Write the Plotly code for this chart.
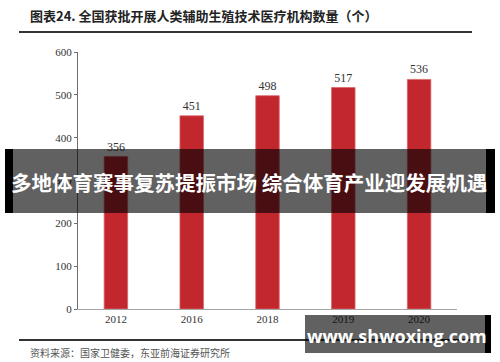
import plotly.graph_objects as go

years = ["2012", "2016", "2018", "2019", "2020"]
counts = [356, 451, 498, 517, 536]
y_ticks = [0, 100, 200, 300, 400, 500, 600]

title_text = "图表24. 全国获批开展人类辅助生殖技术医疗机构数量（个）"
source_text = "资料来源：国家卫健委，东亚前海证券研究所"
banner_text = "多地体育赛事复苏提振市场 综合体育产业迎发展机遇"
watermark_text = "www.shwoxing.com"

W, H = 500, 362
L, R, T, B = 78, 43, 52, 53
pw, ph = W - L - R, H - T - B


def px(x):
    return (x - L) / pw


def py(y):
    return (H - B - y) / ph


fig = go.Figure()
fig.add_trace(go.Bar(
    x=years, y=counts,
    marker=dict(color="#C1272D", line=dict(color="#D9676B", width=0.8)),
    width=0.31,
    text=[str(v) for v in counts],
    textposition="outside",
    textfont=dict(family="Liberation Serif", size=12, color="#333333"),
    cliponaxis=False,
))

serif = "Liberation Serif"
fig.update_layout(
    width=W, height=H,
    margin=dict(l=L, r=R, t=T, b=B),
    paper_bgcolor="white", plot_bgcolor="white",
    showlegend=False,
    bargap=0.69,
    xaxis=dict(
        showline=True, linecolor="#A6A6A6", linewidth=1.2,
        ticks="", showgrid=False,
        tickfont=dict(family=serif, size=11, color="#333333"),
    ),
    yaxis=dict(
        range=[0, 600], tickvals=y_ticks,
        showline=True, linecolor="#6F6F6F", linewidth=1,
        ticks="outside", ticklen=3, tickcolor="#6F6F6F",
        showgrid=False, zeroline=False,
        tickfont=dict(family=serif, size=11, color="#333333"),
    ),
)

shapes = []
annotations = []
# title and rules
annotations.append(dict(xref="paper", yref="paper", x=px(28), y=py(15),
                        xanchor="left", yanchor="middle", showarrow=False,
                        text="<b>" + title_text + "</b>",
                        font=dict(family="Noto Sans CJK SC", size=13, color="#222222")))
shapes.append(dict(type="line", xref="paper", yref="paper",
                   x0=px(19), x1=px(472), y0=py(32), y1=py(32),
                   line=dict(color="#333333", width=2)))
shapes.append(dict(type="line", xref="paper", yref="paper",
                   x0=px(19), x1=px(472), y0=py(340), y1=py(340),
                   line=dict(color="#333333", width=2)))
annotations.append(dict(xref="paper", yref="paper", x=px(28), y=py(352),
                        xanchor="left", yanchor="middle", showarrow=False,
                        text=source_text,
                        font=dict(family="Noto Sans CJK SC", size=10, color="#555555")))

# banner overlay
shapes.append(dict(type="rect", xref="paper", yref="paper", layer="above",
                   x0=px(5), x1=px(495), y0=py(213), y1=py(149),
                   fillcolor="rgba(0,0,0,0.62)", line=dict(width=0)))
shapes.append(dict(type="rect", xref="paper", yref="paper", layer="above",
                   x0=px(5), x1=px(13), y0=py(213), y1=py(149),
                   fillcolor="black", line=dict(width=0)))
shapes.append(dict(type="rect", xref="paper", yref="paper", layer="above",
                   x0=px(486), x1=px(495), y0=py(213), y1=py(149),
                   fillcolor="black", line=dict(width=0)))
annotations.append(dict(xref="paper", yref="paper", x=px(249), y=py(182),
                        xanchor="center", yanchor="middle", showarrow=False,
                        text="<b>" + banner_text + "</b>",
                        font=dict(family="Noto Sans CJK SC", size=20.5, color="white")))

# watermark overlay
shapes.append(dict(type="rect", xref="paper", yref="paper", layer="above",
                   x0=px(305), x1=px(491), y0=py(353), y1=py(315),
                   fillcolor="rgba(0,0,0,0.62)", line=dict(width=0)))
shapes.append(dict(type="rect", xref="paper", yref="paper", layer="above",
                   x0=px(485), x1=px(491), y0=py(353), y1=py(315),
                   fillcolor="black", line=dict(width=0)))
annotations.append(dict(xref="paper", yref="paper", x=px(397), y=py(336),
                        xanchor="center", yanchor="middle", showarrow=False,
                        text="<b>" + watermark_text + "</b>",
                        font=dict(family="Open Sans", size=18, color="white")))

fig.update_layout(shapes=shapes, annotations=annotations)
fig.write_html("out.html", config={"displayModeBar": False},
               post_script="document.body.style.margin='0px';document.body.style.overflow='hidden';")
